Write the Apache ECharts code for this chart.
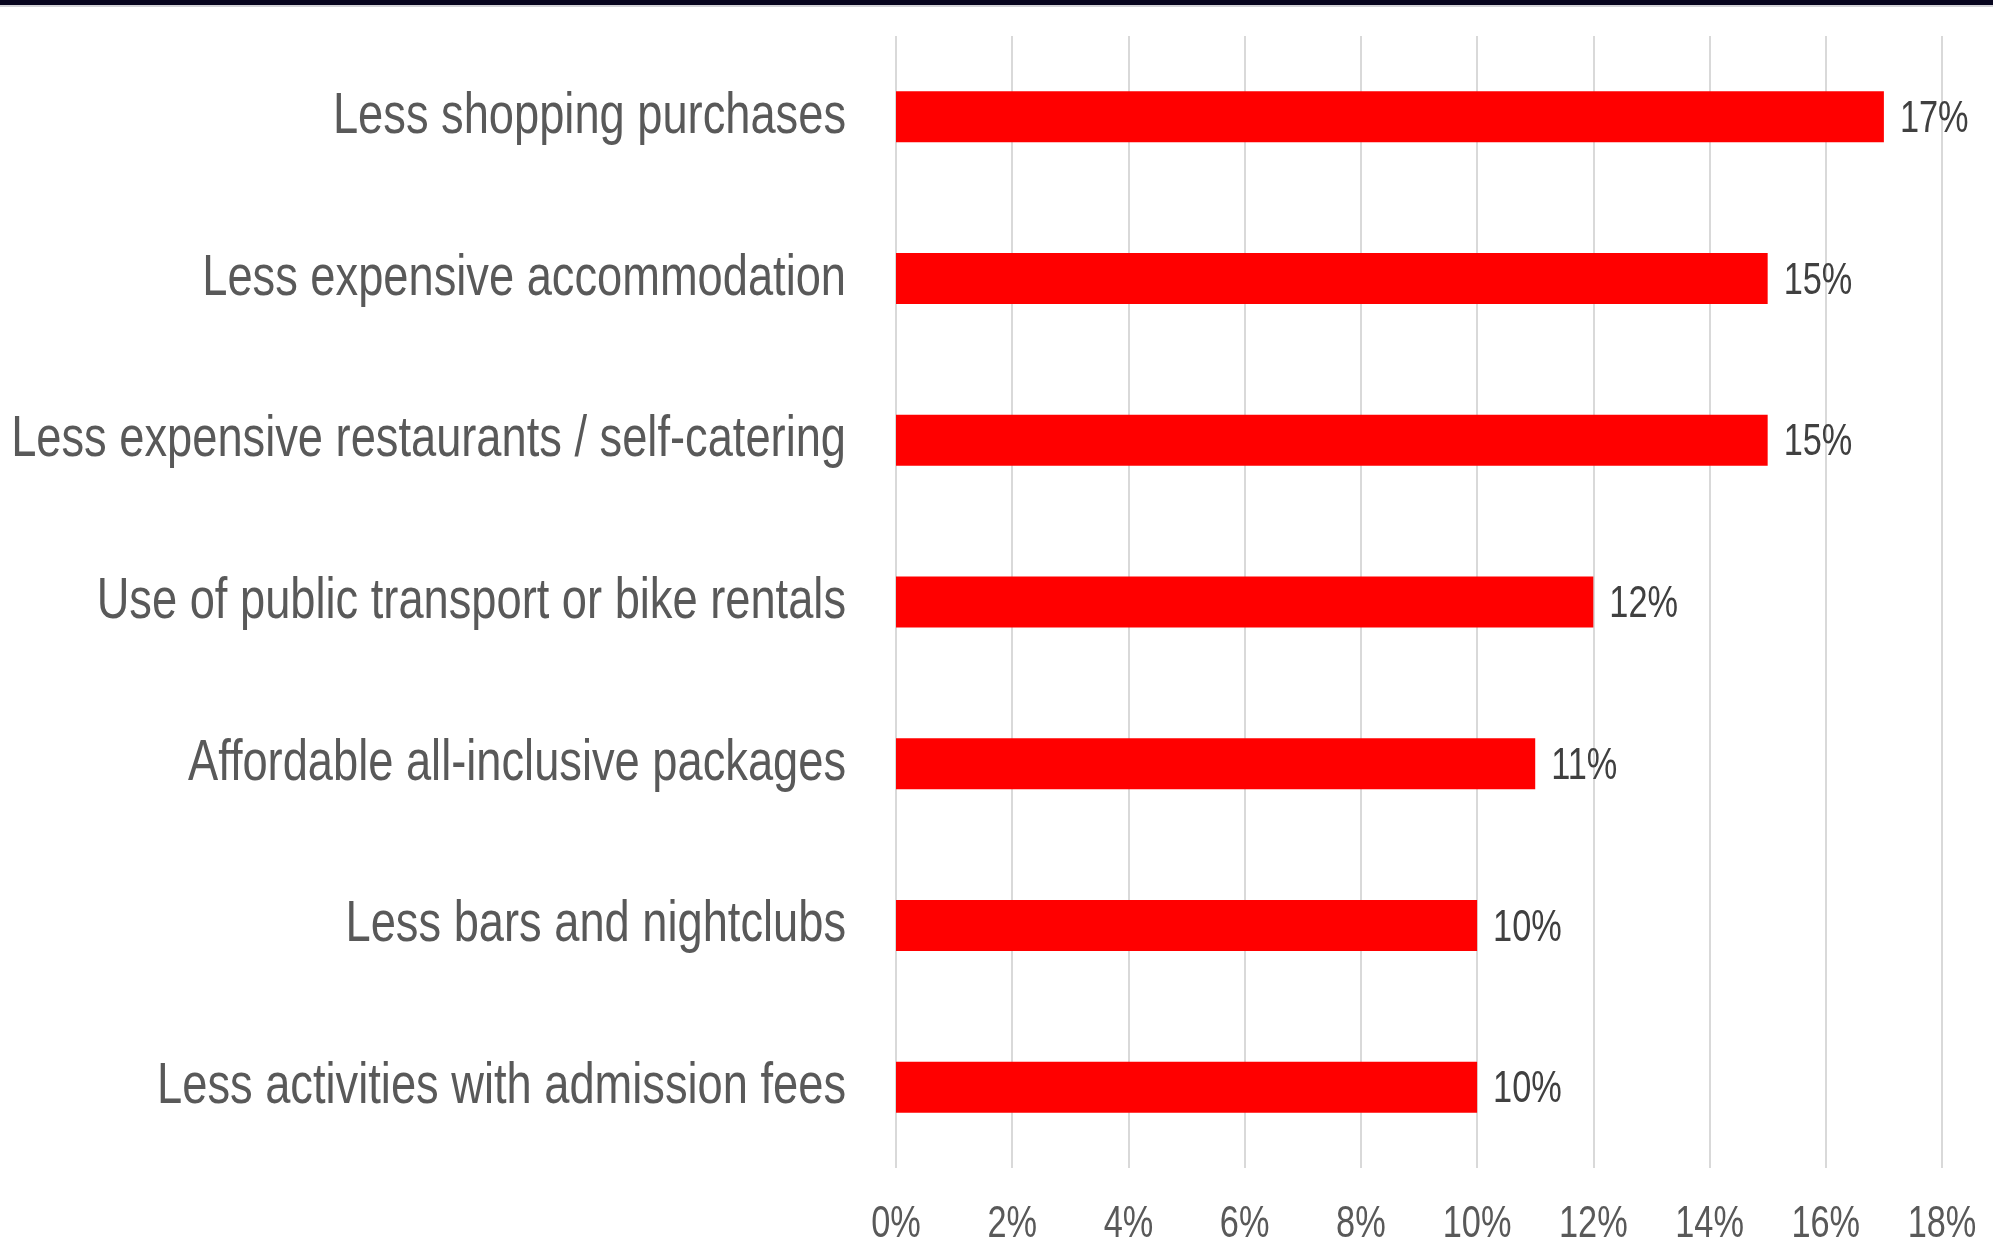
<!DOCTYPE html>
<html><head><meta charset="utf-8">
<script src="https://cdn.jsdelivr.net/npm/echarts@6/dist/echarts.min.js"></script>
<style>html,body{margin:0;padding:0;background:#fff}#c{width:1993px;height:1243px}</style>
</head><body><div id="c"></div>
<script>
const categories = [
  "Less activities with admission fees",
  "Less bars and nightclubs",
  "Affordable all-inclusive packages",
  "Use of public transport or bike rentals",
  "Less expensive restaurants / self-catering",
  "Less expensive accommodation",
  "Less shopping purchases"
];
const values = [10, 10, 11, 12, 15, 15, 17];
const axisMin = 0, axisMax = 18, axisStep = 2;

const FONT = "'Liberation Sans', Arial, sans-serif";
const NARROW = 0.78; // horizontal condensing to mimic the narrow typeface
const chart = echarts.init(document.getElementById('c'));
chart.setOption({
  animation: false,
  backgroundColor: '#fff',
  grid: {left: 896, right: 51, top: 36, bottom: 75, containLabel: false, outerBoundsMode: 'none'},
  graphic: [
    {type: 'rect', shape: {x: 0, y: 0, width: 1993, height: 5}, style: {fill: '#07051e'}, z: 10},
    {type: 'rect', shape: {x: 0, y: 5, width: 1993, height: 2}, style: {fill: '#d4d4d8'}, z: 10}
  ],
  xAxis: {
    type: 'value', min: axisMin, max: axisMax, interval: axisStep,
    axisLine: {show: false}, axisTick: {show: false},
    splitLine: {show: true, lineStyle: {color: '#d9d9d9', width: 2}},
    axisLabel: {formatter: v => v + '%', color: '#595959', fontFamily: FONT, fontSize: 44, margin: 35}
  },
  yAxis: {
    type: 'category', data: categories,
    axisLine: {show: false}, axisTick: {show: false},
    axisLabel: {color: '#595959', fontFamily: FONT, fontSize: 58, margin: 50, padding: [5, 0, 0, 0]}
  },
  series: [{
    type: 'bar', data: values, barWidth: 51,
    itemStyle: {color: '#ff0000'},
    label: {show: true, position: 'right', distance: 16, offset: [0, 3], formatter: p => p.value + '%',
      color: '#404040', fontFamily: FONT, fontSize: 44}
  }]
});

function condense() {
  const zr = chart.getZr();
  const walk = el => {
    if (!el) return;
    if (el.type === 'text' && !el.__narrow) {
      el.__narrow = true;
      el.scaleX = NARROW;
      el.markRedraw();
    }
    if (el.getTextContent) walk(el.getTextContent());
    if (el.isGroup) el.eachChild(walk);
  };
  zr.storage.getRoots().forEach(walk);
  zr.refreshImmediately();
}
condense();
chart.on('finished', condense);
</script></body></html>
